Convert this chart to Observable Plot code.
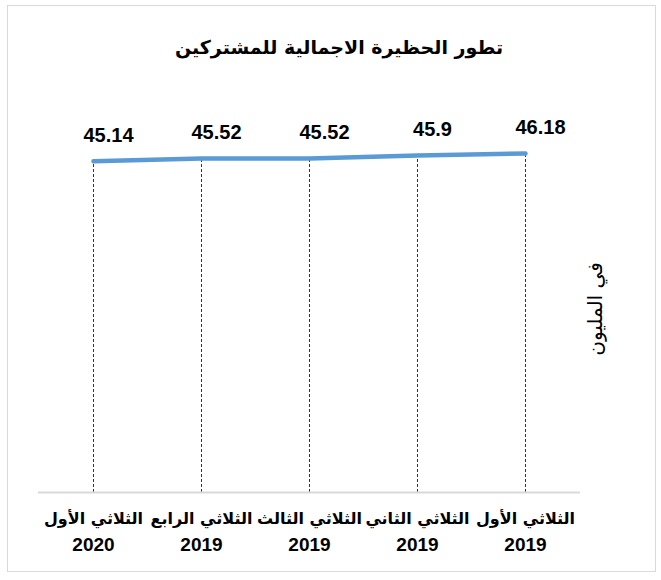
<!DOCTYPE html>
<html>
<head>
<meta charset="utf-8">
<script src="https://cdn.jsdelivr.net/npm/d3@7"></script>
<script src="https://cdn.jsdelivr.net/npm/@observablehq/plot@0.6"></script>
<style>
  html, body { margin: 0; padding: 0; background: #fff; }
  body { width: 661px; height: 580px; position: relative; overflow: hidden; }
  #frame { position: absolute; left: 7px; top: 5px; width: 649px; height: 567px; border: 1px solid #d9d9d9; box-sizing: border-box; }
  #title { position: absolute; left: 0; top: 29px; width: 678px; text-align: center; font: bold 19px "DejaVu Sans", "Liberation Sans", sans-serif; color: #000; line-height: 36px; direction: rtl; }
  #chart { position: absolute; left: 0; top: 90px; }
</style>
</head>
<body>
<div id="frame"></div>
<div id="title">تطور الحظيرة الاجمالية للمشتركين</div>
<div id="chart"></div>
<script>
const quarterNames = ["الثلاثي الأول", "الثلاثي الرابع", "الثلاثي الثالث", "الثلاثي الثاني", "الثلاثي الأول"];
const years = ["2020", "2019", "2019", "2019", "2019"];
const values = [45.14, 45.52, 45.52, 45.9, 46.18];
const unitLabel = "في المليون";

const data = quarterNames.map((q, i) => ({ key: q + " " + years[i], q, year: years[i], value: values[i] }));
const keys = data.map(d => d.key);

const arabicFont = '"DejaVu Sans", "Liberation Sans", sans-serif';

const chart = Plot.plot({
  width: 661,
  height: 490,
  marginLeft: 38,
  marginRight: 81,
  marginTop: 35,
  marginBottom: 88,
  x: { type: "point", domain: keys, padding: 0.5, axis: null },
  y: { domain: [0, 50], axis: null },
  marks: [
    Plot.ruleX(data, { x: "key", y1: 0, y2: "value", stroke: "#000", strokeWidth: 0.8, strokeDasharray: "3,2" }),
    Plot.ruleY([0], { stroke: "#d9d9d9", strokeWidth: 2 }),
    Plot.line(data, { x: "key", y: "value", stroke: "#5b9bd5", strokeWidth: 4.5, strokeLinecap: "round", strokeLinejoin: "round" }),
    Plot.text(data, { x: "key", y: "value", text: d => String(d.value), dx: 15, dy: -26, fontSize: 20, fontWeight: "bold", fill: "#000", fontFamily: '"Liberation Sans", Arial, sans-serif' }),
    Plot.text(data, { x: "key", text: "q", frameAnchor: "bottom", dy: 31, fontSize: 16, fontWeight: "bold", fill: "#000", fontFamily: arabicFont }),
    Plot.text(data, { x: "key", text: "year", frameAnchor: "bottom", dy: 58, fontSize: 19, fontWeight: "bold", fill: "#000", fontFamily: '"Liberation Sans", Arial, sans-serif' }),
    Plot.text([unitLabel], { text: d => d, frameAnchor: "right", dx: 15, dy: 0, rotate: -90, fontSize: 20, fill: "#000", fontFamily: arabicFont, textAnchor: "middle" })
  ]
});
document.getElementById("chart").appendChild(chart);
</script>
</body>
</html>
